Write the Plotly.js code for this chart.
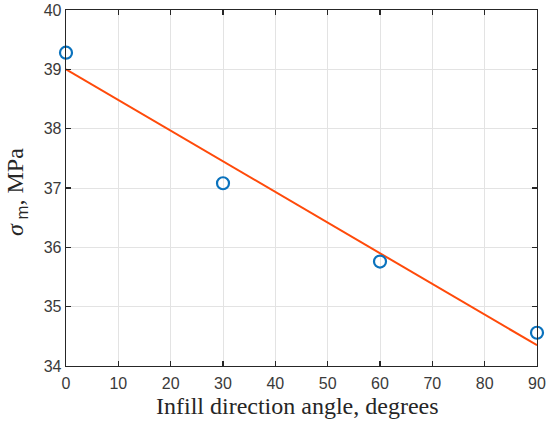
<!DOCTYPE html>
<html>
<head>
<meta charset="utf-8">
<script src="https://cdn.plot.ly/plotly-3.0.1.min.js"></script>
<style>html,body{margin:0;padding:0;background:#fff;}#chart{width:550px;height:425px;}</style>
</head>
<body>
<div id="chart"></div>
<script>
// Measured data points
const angles = [0, 30, 60, 90];
const strength = [39.28, 37.08, 35.76, 34.56];
// Fitted trend line end points
const fitX = [0, 90];
const fitY = [39.0, 34.35];
const xTicks = [0, 10, 20, 30, 40, 50, 60, 70, 80, 90];
const yTicks = [34, 35, 36, 37, 38, 39, 40];

const traces = [
  {
    x: fitX, y: fitY, mode: 'lines', type: 'scatter',
    line: {color: '#ff4a0a', width: 2}, hoverinfo: 'skip', cliponaxis: false
  },
  {
    x: angles, y: strength, mode: 'markers', type: 'scatter',
    marker: {symbol: 'circle-open', size: 12, color: '#0a72bd', line: {width: 2.2, color: '#0a72bd'}},
    cliponaxis: false
  }
];

const axisCommon = {
  showline: true, mirror: 'ticks', linecolor: '#262626', linewidth: 1.3,
  ticks: 'inside', ticklen: 5, tickcolor: '#262626', tickwidth: 1.2,
  showgrid: true, gridcolor: '#e3e3e3', gridwidth: 1, zeroline: false,
  automargin: false,
  tickfont: {family: 'Liberation Sans Narrow, Liberation Sans, Arial, sans-serif', size: 16, color: '#3a3a3a'}
};

const titleFont = {family: 'Liberation Serif, DejaVu Serif, serif', size: 24, color: '#262626'};

const layout = {
  width: 550, height: 425,
  margin: {l: 66, r: 13, t: 10, b: 59},
  paper_bgcolor: '#ffffff', plot_bgcolor: '#ffffff',
  showlegend: false,
  xaxis: Object.assign({}, axisCommon, {
    range: [0, 90], tickvals: xTicks, ticktext: xTicks.map(String),
    ticklabelstandoff: 2
  }),
  yaxis: Object.assign({}, axisCommon, {
    range: [34, 40], tickvals: yTicks, ticktext: yTicks.map(String)
  }),
  annotations: [
    {
      text: 'Infill direction angle, degrees',
      xref: 'paper', yref: 'paper', x: 0.5, y: 0, xshift: -4, yshift: -40,
      xanchor: 'center', yanchor: 'middle', showarrow: false,
      font: titleFont
    },
    {
      text: '<i>σ</i><sub><span style="font-family:Liberation Sans"> m</span></sub>, MPa',
      xref: 'paper', yref: 'paper', x: 0, y: 0.5, xshift: -49, yshift: -4,
      xanchor: 'center', yanchor: 'middle', textangle: -90, showarrow: false,
      font: titleFont
    }
  ]
};

Plotly.newPlot('chart', traces, layout, {displayModeBar: false, staticPlot: true});
</script>
</body>
</html>
